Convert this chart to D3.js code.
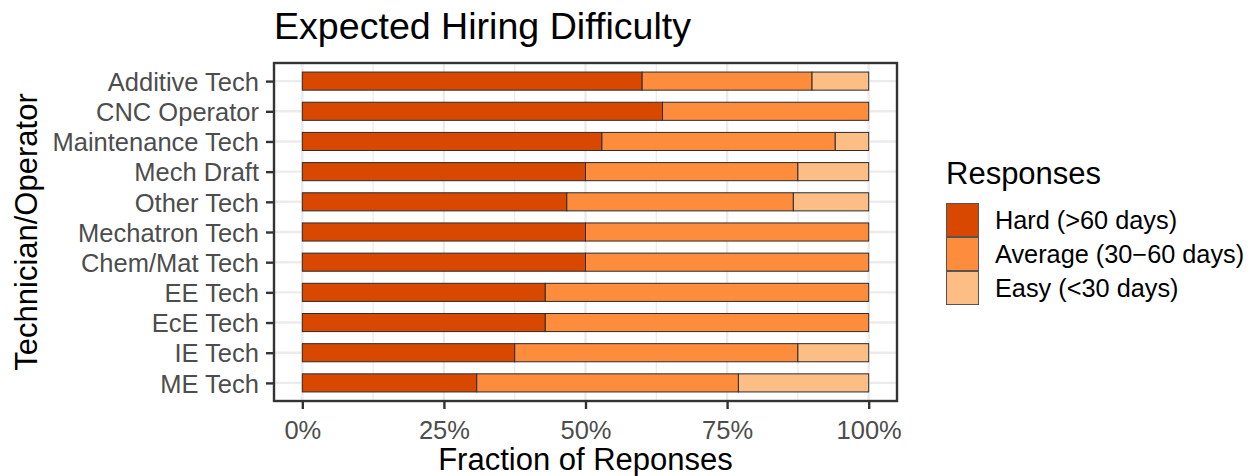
<!DOCTYPE html>
<html>
<head>
<meta charset="utf-8">
<script src="https://cdn.jsdelivr.net/npm/d3@7"></script>
<style>
  body { margin: 0; background: #fff; }
  svg { display: block; font-family: "Liberation Sans", Arial, sans-serif; }
</style>
</head>
<body>
<script>
// values (fraction of responses)
var categories = ["Additive Tech", "CNC Operator", "Maintenance Tech", "Mech Draft", "Other Tech",
    "Mechatron Tech", "Chem/Mat Tech", "EE Tech", "EcE Tech", "IE Tech", "ME Tech"];
var hard    = [0.600, 0.636, 0.529, 0.500, 0.467, 0.500, 0.500, 0.429, 0.429, 0.375, 0.308];
var average = [0.300, 0.364, 0.412, 0.375, 0.400, 0.500, 0.500, 0.571, 0.571, 0.500, 0.462];
var easy    = [0.100, 0.000, 0.059, 0.125, 0.133, 0.000, 0.000, 0.000, 0.000, 0.125, 0.230];
var seriesNames = ["Hard (>60 days)", "Average (30\u221260 days)", "Easy (<30 days)"];
var seriesColors = ["#D94801", "#FD8D3C", "#FDBE85"];
var xTicks = [0, 0.25, 0.5, 0.75, 1];
var xMinor = [0.125, 0.375, 0.625, 0.875];

var width = 1255, height = 476;
var panel = {left: 274, right: 897, top: 63, bottom: 401};

var rows = categories.map(function(c, i) {
    return {cat: c, hard: hard[i], average: average[i], easy: easy[i]};
});
var stacked = d3.stack().keys(["hard", "average", "easy"])(rows);

var svg = d3.select("body").append("svg")
    .attr("width", width)
    .attr("height", height);

// continuous scale with 5% expansion each side
var x = d3.scaleLinear()
    .domain([-0.05, 1.05])
    .range([panel.left, panel.right]);

// discrete scale: 0.6 units padding each end, bar width 0.6
var step = (panel.bottom - panel.top) / (categories.length - 1 + 1.2);
var y = d3.scalePoint()
    .domain(categories)
    .range([panel.top + 0.6 * step, panel.bottom - 0.6 * step]);
var barH = 0.6 * step;

// grid
var grid = svg.append("g");
grid.selectAll(".minor").data(xMinor).enter().append("line")
    .attr("x1", x).attr("x2", x)
    .attr("y1", panel.top).attr("y2", panel.bottom)
    .attr("stroke", "#EBEBEB").attr("stroke-width", 1.2);
grid.selectAll(".majx").data(xTicks).enter().append("line")
    .attr("x1", x).attr("x2", x)
    .attr("y1", panel.top).attr("y2", panel.bottom)
    .attr("stroke", "#EBEBEB").attr("stroke-width", 2.4);
grid.selectAll(".majy").data(categories).enter().append("line")
    .attr("x1", panel.left).attr("x2", panel.right)
    .attr("y1", y).attr("y2", y)
    .attr("stroke", "#EBEBEB").attr("stroke-width", 2.4);

// bars
svg.append("g").selectAll("g")
    .data(stacked)
    .enter().append("g")
    .attr("fill", function(d, i) { return seriesColors[i]; })
    .selectAll("rect")
    .data(function(d) { return d.filter(function(p) { return p[1] - p[0] > 0; }); })
    .enter().append("rect")
    .attr("x", function(d) { return x(d[0]); })
    .attr("width", function(d) { return x(d[1]) - x(d[0]); })
    .attr("y", function(d) { return y(d.data.cat) - barH / 2; })
    .attr("height", barH)
    .attr("stroke", "#2b2b2b")
    .attr("stroke-width", 1);

// panel border
svg.append("rect")
    .attr("x", panel.left).attr("y", panel.top)
    .attr("width", panel.right - panel.left)
    .attr("height", panel.bottom - panel.top)
    .attr("fill", "none")
    .attr("stroke", "#333")
    .attr("stroke-width", 2.4);

// axes
var xAxis = svg.append("g")
    .attr("transform", "translate(0," + panel.bottom + ")")
    .call(d3.axisBottom(x).tickValues(xTicks).tickFormat(d3.format(".0%")).tickSize(8).tickPadding(6));
var yAxis = svg.append("g")
    .attr("transform", "translate(" + panel.left + ",0)")
    .call(d3.axisLeft(y).tickSize(8).tickPadding(7));

[xAxis, yAxis].forEach(function(a) {
    a.select(".domain").remove();
    a.selectAll(".tick line").attr("stroke", "#333").attr("stroke-width", 2.4);
    a.selectAll(".tick text")
        .attr("fill", "#4D4D4D")
        .style("font-size", "25.5px")
        .style("font-family", "'Liberation Sans', Arial, sans-serif");
});
xAxis.selectAll(".tick text").attr("dy", "0.95em");
yAxis.selectAll(".tick text").attr("dy", "0.36em");

// titles
svg.append("text")
    .attr("x", panel.left).attr("y", 39)
    .style("font-size", "37.6px")
    .attr("fill", "#000")
    .text("Expected Hiring Difficulty");

svg.append("text")
    .attr("x", (panel.left + panel.right) / 2).attr("y", 470)
    .attr("text-anchor", "middle")
    .style("font-size", "31px")
    .text("Fraction of Reponses");

svg.append("text")
    .attr("transform", "translate(37," + (panel.top + panel.bottom) / 2 + ") rotate(-90)")
    .attr("text-anchor", "middle")
    .style("font-size", "31px")
    .text("Technician/Operator");

// legend
var legend = svg.append("g").attr("transform", "translate(946,0)");
legend.append("text")
    .attr("x", 0).attr("y", 184)
    .style("font-size", "31px")
    .text("Responses");

var keySize = 34;
var keys = legend.selectAll(".key")
    .data(seriesNames)
    .enter().append("g")
    .attr("transform", function(d, i) { return "translate(0," + (203 + i * keySize) + ")"; });
keys.append("rect")
    .attr("x", 0.5).attr("y", 0.5)
    .attr("width", keySize - 2).attr("height", keySize - 1)
    .attr("fill", function(d, i) { return seriesColors[i]; })
    .attr("stroke", "#555")
    .attr("stroke-width", 1);
keys.append("text")
    .attr("x", 49).attr("y", keySize / 2)
    .attr("dy", "0.36em")
    .style("font-size", "25.3px")
    .text(function(d) { return d; });
</script>
</body>
</html>
